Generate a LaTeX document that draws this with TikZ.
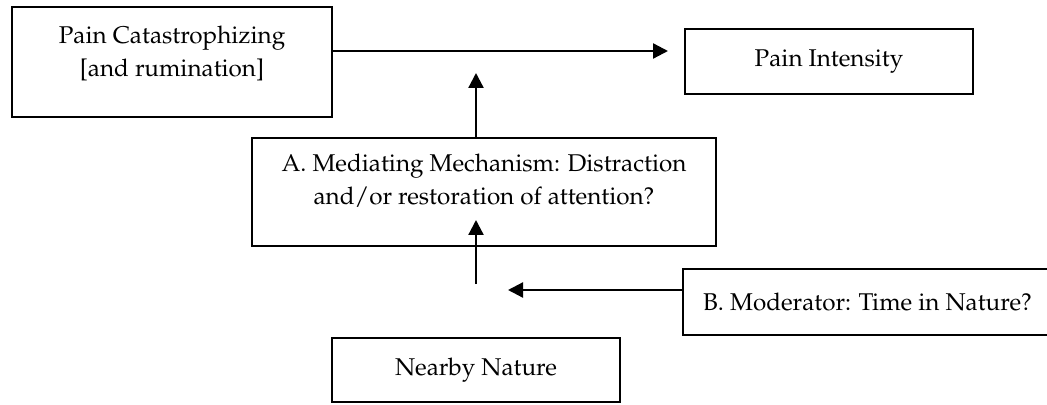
\documentclass[tikz,border=0pt]{standalone}
\usepackage[T1]{fontenc}
\usepackage{mathpazo}
\usetikzlibrary{arrows.meta,calc}
\newcommand{\lowpad}[1]{\rule[-#1]{0pt}{#1}}

\begin{document}
\begin{tikzpicture}[x=0.02cm,y=-0.02cm,>={Triangle[length=0.3cm,width=0.3cm]},
  box/.style={draw,line width=1.4pt,align=center,inner sep=0pt,
    font=\fontsize{13.8}{18.8}\selectfont},
  link/.style={->,line width=1.3pt}]
  \clip (0,0) rectangle (1047,405);
  % 箱
  \node[box,minimum width=6.4cm,minimum height=2.2cm] (catas) at (172,62)
    {Pain Catastrophizing\\{[and rumination]}\lowpad{0.45cm}};
  \node[box,minimum width=5.76cm,minimum height=1.3cm] (pain) at (829,61.5)
    {Pain Intensity};
  \node[box,minimum width=9.28cm,minimum height=2.16cm] (mech) at (484,192)
    {A. Mediating Mechanism: Distraction\\and/or restoration of attention?\lowpad{0.5cm}};
  \node[box,minimum width=7.38cm,minimum height=1.32cm] (moder) at (867.5,302)
    {B. Moderator: Time in Nature?};
  \node[box,minimum width=5.76cm,minimum height=1.28cm] (nature) at (476,370)
    {Nearby Nature};
  % 矢印の端
  \coordinate (tipA) at (668,51);
  \coordinate (tipB) at (476,73);
  \coordinate (joint) at (476,284);
  \coordinate (tipC) at (476,220);
  \coordinate (tipD) at (508,290);
  % 矢印
  \draw[link] (catas.east |- tipA) -- (tipA);
  \draw[link] (mech.north -| tipB) -- (tipB);
  \draw[link] (joint) -- (tipC);
  \draw[link] (moder.west |- tipD) -- (tipD);
\end{tikzpicture}
\end{document}
